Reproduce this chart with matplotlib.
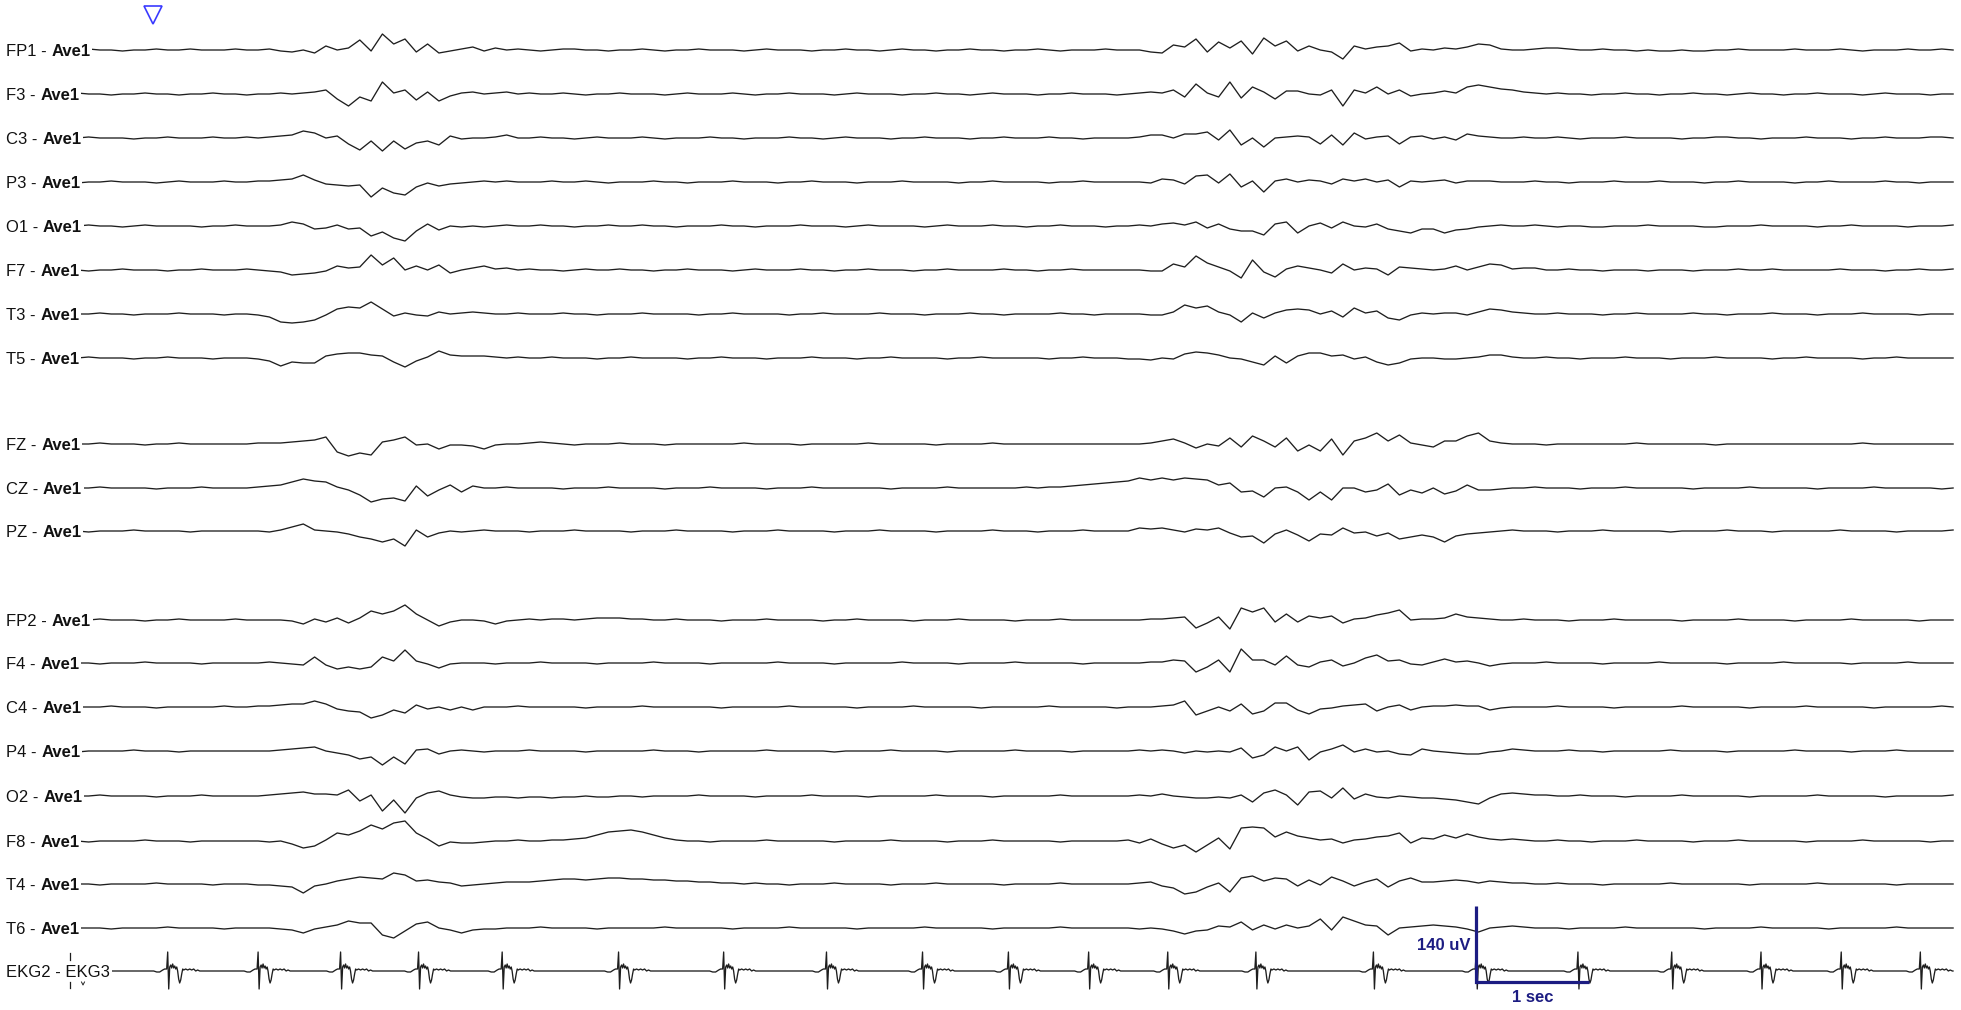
import numpy as np
import matplotlib.pyplot as plt

# ===================================================
# EEG page: 19 channels vs. average reference + EKG
# values are traced at 10 samples/s, in display units
# (1 unit = 140/76 uV, i.e. one screen pixel of the page)
# ===================================================
FS = 10.0
UV_PER_UNIT = 140.0 / 76.0

fp1 = [1, 0, 1, 0, 0, -1, 0, 0, 1, 0, 0, 1, 0, 0,
       0, 1, 0, 0, 1, -1, -2, 0, -3, 4, 0, 2, 10, -1,
       16, 6, 11, -2, 6, -3, -1, 1, 3, -1, 2, 0, 1, 0,
       -1, 0, 1, 1, 0, 0, -1, 0, 0, 1, 0, -1, 0, 0,
       1, 0, 0, 0, -1, 0, 1, 0, 0, 0, -1, 0, 0, 1,
       0, 0, -1, 0, 1, 0, 0, -1, 0, 0, 1, 0, 0, -1,
       0, 0, 1, 0, -1, 0, 0, 0, 1, 0, 0, 0, -2, -3,
       5, 3, 11, -2, 8, 2, 9, -4, 12, 4, 9, -1, 4, 0,
       -2, -9, 4, 1, 3, 4, 7, -1, 1, 0, 2, 1, 3, 6,
       5, 1, 0, 0, 1, 2, 2, 1, 0, 0, 1, 0, 0, -1,
       0, -1, -1, 0, -1, -1, 0, 0, 1, 0, 0, 0, 0, 1,
       0, 0, 0, 1, 0, -1, 0, 0, 0, 1, 0, 0, 1, 0]

f3 = [0, 1, 0, 0, -1, 0, 0, 1, 0, 0, -1, 0, 0, 1,
      0, 0, -1, 0, 0, 1, 0, 1, 2, 4, -5, -12, -3, -7,
      12, 1, 4, -6, 2, -7, -2, 1, 2, 0, 1, 2, 0, 1,
      0, 0, 1, 0, -1, 0, 0, 1, 0, 0, 0, -1, 0, 1,
      0, 0, 0, 1, 0, -1, 0, 0, 1, 0, 0, 0, -1, 0,
      1, 0, 0, 0, -1, 0, 0, 1, 0, 0, -1, 0, 1, 0,
      0, 0, -1, 0, 0, 1, 0, 0, 0, -1, 0, 1, 2, 1,
      4, -3, 10, 1, -3, 12, -4, 7, 2, -5, 3, 3, 0, -1,
      4, -12, 4, 1, 7, 0, 4, -2, 0, 1, 3, 1, 7, 9,
      7, 5, 4, 2, 1, 0, 1, 0, 0, -1, 0, 0, 1, 0,
      0, -1, 0, 0, 1, 0, 0, -1, 0, 1, 0, 0, -1, 0,
      0, 1, 0, 0, 0, -1, 0, 1, 0, 0, 0, -1, 0, 0]

c3 = [0, 0, 1, 0, 0, 0, -1, 0, 0, 1, 0, 0, 0, 1,
      0, 0, 1, 0, 1, 2, 3, 7, 5, 0, 2, -6, -12, -3,
      -13, -3, -11, -5, -3, -7, 2, -1, 0, 0, 1, 3, 0, 0,
      1, 0, 0, -1, 0, 1, 0, 0, 0, 1, 0, -1, 0, 0,
      0, 1, 0, 0, -1, 0, 0, 0, 1, 0, 0, -1, 0, 1,
      0, 0, 0, -1, 0, 0, 1, 0, 0, 0, -1, 0, 0, 1,
      0, 0, 0, 1, 0, 0, -1, 0, 0, 0, 0, 1, 3, 3,
      0, 4, 4, 6, -2, 8, -7, 0, -9, 0, 1, 2, 1, -6,
      3, -7, 5, -1, 1, 2, -6, 1, 2, -1, 1, -2, 4, 2,
      1, 0, 0, 1, 0, 0, 1, 0, -1, 0, 0, 0, 1, 0,
      0, 0, 0, -1, 0, 0, 1, 1, 0, 0, -1, 0, 0, 0,
      1, 0, 0, 0, -1, 0, 0, 1, 0, 0, 0, 1, 1, 0]

p3 = [0, -1, 0, 0, 1, 0, 0, 0, -1, 0, 1, 0, 0, 0,
      1, 0, 0, 1, 1, 2, 3, 7, 2, -2, -3, -4, -3, -15,
      -6, -11, -13, -5, -1, -4, -2, -1, 0, 1, 0, 1, 0, 0,
      0, 1, 0, 0, 1, 0, -1, 0, 0, 0, 1, 0, 0, -1,
      0, 0, 0, 1, 0, 0, 0, -1, 0, 0, 1, 0, 0, 0,
      -1, 0, 0, 0, 1, 0, 0, 0, 0, -1, 0, 0, 1, 0,
      0, 0, 0, -1, 0, 0, 1, 0, 0, 0, 0, 0, -1, 3,
      2, -2, 6, 7, -1, 8, -5, 1, -10, 1, 3, 0, 2, 1,
      -2, 3, 1, 3, 0, 2, -5, 1, 0, 1, 2, -1, 1, 1,
      1, 0, 0, 0, 1, 0, 0, -1, 0, 0, 0, 1, 0, 0,
      0, 1, 0, 0, 0, -1, 0, 0, 1, 0, 0, 0, 0, -1,
      0, 0, 1, 0, 0, 0, 0, 1, 0, 0, -1, 0, 0, 0]

o1 = [0, 0, 1, 0, 0, -1, 0, 1, 0, 0, 0, 0, -1, 0,
      0, 1, 0, 0, 0, 1, 4, 2, -3, -2, 1, -3, -2, -10,
      -6, -12, -15, -5, 2, -4, 0, -1, 0, -1, 0, 1, 0, 0,
      1, 0, 0, -1, 0, 0, 1, 0, 0, 1, 0, 0, -1, 0,
      0, 0, 1, 0, 0, -1, 0, 0, 0, 1, 0, 0, 0, -1,
      0, 1, 0, 0, 0, 0, -1, 0, 1, 0, 0, 0, 1, 0,
      0, -1, 0, 0, 1, 0, 0, 0, -1, 0, 0, 1, 0, 2,
      3, 1, 4, -2, 2, -3, -5, -5, -9, 2, 4, -7, 0, 3,
      -2, 4, 0, -1, 2, -3, -5, -7, -3, -3, -7, -4, -3, -1,
      0, 1, 0, 0, 1, 0, -1, 0, 0, -1, -1, 0, 0, 0,
      1, 0, 0, 0, 0, -1, -1, 0, 0, 0, 1, 0, 0, 0,
      0, -1, 0, 0, 1, 0, 0, 0, 0, -1, 0, 0, 0, 1]

f7 = [0, 0, -1, 0, 0, 1, 0, 0, 0, -1, 0, 0, 1, 0,
      0, 0, 1, 0, -1, -2, -5, -4, -3, -1, 4, 2, 3, 15,
      5, 12, 0, 4, 0, 5, -3, 0, 2, 4, 1, 2, 0, 1,
      0, 0, -1, 0, 1, 0, 0, 1, 0, 0, -1, 0, 0, 1,
      0, 0, 0, -1, 0, 1, 0, 0, 0, 1, 0, 0, -1, 0,
      0, 1, 0, 0, 0, -1, 0, 0, 1, 0, 0, 0, 0, 1,
      0, 0, -1, 0, 0, 1, 0, 0, 0, 0, 0, 0, -1, -1,
      6, 3, 14, 7, 3, -1, -8, 10, -2, -7, 1, 4, 2, 0,
      -3, 6, 0, 2, 1, -5, 3, 2, 1, 0, 1, 4, 0, 3,
      6, 5, 1, 2, 2, 0, 0, 1, 0, 0, -1, 0, 0, 0,
      -1, 0, 0, 0, -1, 0, 0, 0, 1, 0, 0, 1, 0, 0,
      0, 0, 0, 1, 0, 0, 0, -1, 0, 0, 1, 0, 0, 1]

t3 = [0, 0, 0, 1, 0, 0, -1, 0, 0, 0, 1, 0, 0, 0,
      -1, 0, 0, -1, -3, -8, -9, -8, -6, -1, 5, 7, 6, 12,
      5, -2, 1, -1, -2, 2, 0, 1, 2, 1, 0, 0, 1, 0,
      0, 0, 1, 0, 0, -1, 0, 0, 0, 1, 0, 0, 0, 0,
      -1, 0, 0, 1, 0, 0, 0, 0, -1, 0, 0, 1, 0, 0,
      0, 0, 1, 0, 0, 0, -1, 0, 0, 0, 1, 0, 0, -1,
      0, 0, 0, 0, 1, 0, 0, -1, 0, 0, 0, 0, -1, -1,
      2, 9, 6, 8, 2, -1, -8, 1, -4, 1, 4, 5, 4, 0,
      3, -3, 6, 1, 3, -4, -6, -1, 1, 0, 1, 1, -1, 2,
      5, 4, 2, 1, 0, 0, 1, 0, 0, 0, -1, 0, 0, 1,
      0, 0, 0, 0, 1, 0, 0, -1, 0, 0, 0, 1, 0, 0,
      0, -1, 0, 0, 0, 1, 0, 0, 0, 0, -1, 0, 0, 0]

t5 = [0, 0, 1, 0, 0, 0, -1, 0, 0, 1, 0, 0, 0, -1,
      0, 0, 0, -1, -3, -8, -4, -5, -5, 2, 4, 5, 5, 3,
      2, -4, -9, -3, 1, 7, 3, 2, 2, 2, 1, 0, 1, 0,
      0, 1, 0, 0, 0, -1, 0, 0, 1, 0, 0, 0, 0, -1,
      0, 0, 1, 0, 0, 0, -1, 0, 0, 0, 1, 0, 0, 0,
      -1, 0, 0, 1, 0, 0, 0, 0, -1, 0, 0, 1, 0, 0,
      0, 0, 0, -1, 0, 0, 1, 0, 0, 0, -1, -1, -2, 0,
      -1, 4, 6, 5, 3, 0, -1, -4, -7, 2, -5, 2, 5, 5,
      2, 3, -1, 1, -4, -7, -5, -1, 0, 0, -1, -1, 0, 1,
      3, 3, 1, 0, 0, 1, 0, 0, -1, 0, 0, 0, 1, 0,
      0, 0, -1, 0, 0, 0, 1, 0, 0, 0, 0, -1, 0, 0,
      1, 0, 0, 0, 0, -1, 0, 0, 1, 0, 0, 0, 0, 0]

fz = [0, 0, 0, 1, 0, 0, 0, -1, 0, 0, 1, 0, 0, 0,
      0, 0, 0, 1, 1, 1, 2, 3, 4, 7, -8, -12, -9, -11,
      2, 4, 7, -1, 0, -5, -1, -1, -2, -5, -1, 0, 0, 1,
      2, 1, 0, -1, 0, 0, 0, 1, 0, 0, 0, -1, 0, 0,
      0, 0, 0, 0, 1, 0, 0, 0, 0, -1, 0, 0, 0, 0,
      0, 1, 0, 0, 0, 0, 0, -1, 0, 0, 0, 0, 1, 0,
      0, 0, 0, 0, 0, 0, 0, 0, 0, 0, 0, 0, 1, 3,
      5, 1, -4, 0, -2, 6, -3, 8, 3, -3, 6, -7, -1, -7,
      5, -11, 3, 6, 11, 3, 9, 1, -1, -3, 3, 3, 8, 11,
      3, 1, 0, 0, 0, -1, 0, 0, 0, 0, 0, 0, 0, 1,
      0, 0, 0, 0, 0, 0, -1, 0, 0, 0, 0, 0, 0, 0,
      0, 0, 0, 0, 0, 1, 0, 0, 0, 0, 0, 0, 0, 0]

cz = [0, 0, 0, 1, 0, 0, 0, 0, -1, 0, 0, 0, 1, 0,
      0, 0, 0, 1, 2, 3, 6, 9, 7, 6, 1, -2, -7, -14,
      -11, -10, -13, 2, -8, -2, 3, -4, 2, 0, 0, 1, 0, 0,
      0, 0, -1, 0, 0, 0, 1, 0, 0, 0, 0, -1, 0, 0,
      0, 1, 0, 0, 0, 0, -1, 0, 0, 0, 1, 0, 0, 0,
      0, 0, 0, -1, 0, 0, 0, 0, 1, 0, 0, 0, 0, 0,
      0, 1, 0, 1, 1, 2, 3, 4, 5, 6, 7, 10, 8, 10,
      8, 10, 9, 8, 3, 5, -4, -3, -9, 0, 1, -4, -12, -4,
      -12, 0, 0, -4, -2, 4, -7, -2, -5, 0, -6, -3, 3, -2,
      -2, -1, 0, 0, 1, 0, 0, 0, -1, 0, 0, 0, 1, 0,
      0, 0, 0, 0, -1, 0, 0, 0, 0, 1, 0, 0, 0, 0,
      0, -1, 0, 0, 0, 0, 1, 0, 0, 0, 0, 0, -1, 0]

pz = [0, 0, -1, 0, 0, 0, 1, 0, 0, 0, 0, -1, 0, 0,
      0, 0, 0, 0, -1, 1, 4, 7, 1, 0, -1, -3, -6, -8,
      -11, -8, -15, 1, -6, -2, 0, -1, 0, 1, 0, 0, 0, -1,
      0, 0, 0, 1, 0, 0, 0, 0, -1, 0, 0, 0, 1, 0,
      0, 0, 0, -1, 0, 0, 0, 1, 0, 0, 0, 0, -1, 0,
      0, 0, 1, 0, 0, 0, 0, -1, 0, 0, 0, 0, 1, 0,
      0, 0, -1, 0, 0, 0, 1, 0, 0, 0, 0, 3, 2, 3,
      1, -1, 2, 1, 3, -2, -6, -5, -12, -3, 1, -4, -10, -3,
      -4, 3, -2, -1, -5, -2, -8, -6, -4, -6, -11, -5, -3, -2,
      -1, 0, 1, 0, 0, 0, -1, 0, 0, 0, 1, 0, 0, 0,
      0, 0, -1, 0, 0, 0, 0, 1, 0, 0, 0, -1, 0, 0,
      0, 0, 0, 1, 0, 0, 0, 0, -1, 0, 0, 0, 0, 1]

fp2 = [0, 0, 0, 1, 0, 0, 0, -1, 0, 0, 1, 0, 0, 0,
       0, 1, 0, 0, 0, 0, -1, -4, 1, -2, 2, -3, 2, 9,
       6, 9, 15, 6, 0, -6, -2, 0, 0, -1, -4, -1, 0, 1,
       0, 1, 1, 0, 1, 2, 2, 2, 1, 1, 0, 0, 1, 0,
       0, 0, -1, 0, 0, 0, 1, 0, 0, 0, 0, -1, 0, 0,
       1, 0, 0, 0, 0, -1, 0, 0, 0, 1, 0, 0, 0, 0,
       -1, 0, 0, 0, 1, 0, 0, 0, 0, 0, 0, 0, 1, 1,
       2, 3, -8, -3, 3, -9, 12, 8, 12, -2, 6, -2, 4, 2,
       4, -3, 1, 2, 5, 7, 10, 0, 1, 1, 2, 6, 3, 2,
       1, 0, 0, 1, 0, 0, 0, -1, 0, 0, 0, 1, 0, 0,
       0, 0, 0, -1, 0, 0, 0, 0, 1, 0, 0, 0, 0, -1,
       0, 0, 0, 0, 1, 0, 0, 0, 0, 0, -1, 0, 0, 0]

f4 = [0, 0, 0, -1, 0, 0, 0, 1, 0, 0, 0, 0, -1, 0,
      0, 0, 0, 0, 1, 0, -1, -2, 6, -2, -6, -4, -6, -4,
      6, 2, 13, 2, -1, -5, -1, 0, 0, 0, -1, 0, 0, 0,
      1, 0, 0, 0, 0, -1, 0, 0, 0, 0, 1, 0, 0, 0,
      0, -1, 0, 0, 0, 0, 0, 1, 0, 0, 0, 0, -1, 0,
      0, 0, 0, 0, 1, 0, 0, 0, 0, -1, 0, 0, 0, 0,
      1, 0, 0, 0, 0, 0, -1, 0, 0, 0, 0, 0, 1, 1,
      3, 2, -9, -4, 3, -9, 14, 3, 3, -2, 7, -2, -4, 1,
      3, -3, 0, 5, 8, 2, 3, -1, -2, 1, 4, 1, 2, 0,
      -3, -1, 0, 0, 0, 1, 0, 0, 0, 0, -1, 0, 0, 0,
      0, 1, 0, 0, 0, 0, 0, -1, 0, 0, 0, 0, 1, 0,
      0, 0, 0, 0, -1, 0, 0, 0, 0, 1, 0, 0, 0, 0]

c4 = [0, 0, 0, 0, 1, 0, 0, 0, -1, 0, 0, 0, 0, 0,
      1, 0, 0, 1, 1, 2, 3, 3, 6, 3, -2, -4, -5, -11,
      -8, -3, -6, 2, -2, 0, -3, 0, -3, 0, 0, 0, 1, 0,
      0, 0, 0, 0, -1, 0, 0, 0, 0, 1, 0, 0, 0, 0,
      0, 0, -1, 0, 0, 0, 0, 0, 1, 0, 0, 0, 0, 0,
      -1, 0, 0, 0, 0, 1, 0, 0, 0, 0, 0, -1, 0, 0,
      0, 0, 0, 1, 0, 0, 0, 0, 0, -1, 0, 0, 0, 1,
      2, 6, -8, -4, 0, -4, 3, -7, -4, 4, 4, -3, -7, -2,
      -1, 1, 2, 3, -4, 0, 2, -3, 0, 1, 1, 2, 1, 1,
      -3, -1, 0, 0, 0, 0, 1, 0, 0, 0, 0, -1, 0, 0,
      0, 0, 0, 1, 0, 0, 0, 0, 0, -1, 0, 0, 0, 0,
      1, 0, 0, 0, 0, 0, -1, 0, 0, 0, 0, 0, 1, 0]

p4 = [0, -1, 0, 0, 0, 0, 1, 0, 0, 0, -1, 0, 0, 0,
      0, 0, 0, 0, 0, 1, 2, 3, 4, 0, -2, -4, -8, -6,
      -14, -6, -13, 1, 2, -3, 0, 1, 0, -1, 0, 0, 0, 1,
      0, 0, 0, 0, -1, 0, 0, 0, 0, 0, 1, 0, 0, 0,
      -1, 0, 0, 0, 0, 0, 1, 0, 0, 0, 0, 0, -1, 0,
      0, 0, 0, 1, 0, 0, 0, 0, -1, 0, 0, 0, 0, 0,
      1, 0, 0, 0, 0, -1, 0, 0, 0, 0, 0, 1, 0, 1,
      0, -2, 0, -1, 0, -1, 3, -7, -4, 4, 0, 4, -9, -1,
      2, 6, -1, 2, -1, 0, -3, -4, 2, 0, -1, -2, -3, -3,
      -1, 0, 2, 1, 0, 0, 0, 1, 0, 0, -1, 0, 0, 0,
      0, 0, 1, 0, 0, 0, 0, -1, 0, 0, 0, 0, 0, 1,
      0, 0, 0, 0, -1, 0, 0, 0, 1, 0, 0, 0, 0, 0]

o2 = [0, 0, 0, 1, 0, 0, 0, 0, -1, 0, 0, 0, 1, 0,
      0, 0, 0, 0, 1, 2, 3, 4, 2, 2, 1, 6, -5, 1,
      -15, -4, -17, -2, 3, 5, 1, -1, -2, -2, -1, -1, -2, -1,
      -1, -2, -1, -1, 0, -1, -1, 0, 0, -1, 0, 0, 0, 0,
      1, 0, 0, 0, 0, -1, 0, 0, 0, 0, 1, 0, 0, 0,
      0, -1, 0, 0, 0, 0, 0, 1, 0, 0, 0, 0, -1, 0,
      0, 0, 0, 0, 1, 0, 0, 0, 0, 0, 0, 1, 0, 2,
      0, -1, -2, -2, -1, -2, 1, -6, 3, 6, 1, -9, 4, 5,
      -2, 8, -3, 2, -1, -2, 0, -1, -2, -2, -3, -4, -6, -8,
      -2, 2, 3, 2, 1, 1, 0, 0, 1, 0, 0, 0, -1, 0,
      0, 0, 0, 1, 0, 0, 0, 0, 0, -1, 0, 0, 0, 0,
      0, 1, 0, 0, 0, 0, 0, -1, 0, 0, 0, 0, 0, 1]

f8 = [0, 0, -1, 0, 0, 0, 0, 1, 0, 0, 0, -1, 0, 0,
      0, 0, 0, 0, -1, 0, -3, -7, -5, 1, 8, 6, 10, 16,
      12, 18, 20, 8, 2, -5, -1, -2, -2, -1, 0, 0, 1, 0,
      0, 1, 1, 2, 3, 6, 9, 10, 11, 9, 6, 3, 1, 0,
      0, -1, 0, 0, 0, 0, 1, 0, 0, 0, 0, 0, -1, 0,
      0, 0, 0, 1, 0, 0, 0, 0, -1, 0, 0, 0, 1, 0,
      0, 0, 0, 0, -1, 0, 0, 0, 0, 0, 1, -2, 2, -3,
      -7, -4, -11, -4, 3, -8, 13, 14, 13, 4, 9, 5, 3, 1,
      2, -2, 1, 2, 4, 5, 8, -2, 3, 2, 6, 3, 7, 4,
      2, 1, 2, 1, 0, 0, 1, 0, 0, -1, 0, 0, 0, 1,
      0, 0, 0, 0, -1, 0, 0, 0, 1, 0, 0, 0, 0, 0,
      -1, 0, 0, 0, 0, 1, 0, 0, 0, 0, 0, -1, 0, 0]

t4 = [0, 0, 0, -1, 0, 0, 0, 0, 1, 0, 0, 0, 0, -1,
      0, 0, 0, -1, -1, -2, -3, -9, -2, 0, 3, 5, 7, 6,
      5, 11, 9, 3, 4, 2, 1, -2, -1, 0, 1, 2, 2, 2,
      3, 4, 5, 5, 4, 5, 6, 6, 5, 5, 4, 4, 3, 3,
      2, 2, 1, 1, 0, 1, 0, 0, -1, 0, 0, 0, 1, 0,
      0, 0, 0, -1, 0, 0, 0, 1, 0, 0, 0, 0, 0, -1,
      0, 0, 0, 0, 1, 0, 0, 0, 0, 0, 0, 1, 2, -2,
      -4, -10, -8, -3, 1, -8, 6, 8, 3, 6, 5, -2, 4, -1,
      7, 3, -2, 2, 5, -3, 3, 6, 2, 2, 3, 4, 3, 1,
      3, 2, 1, 1, 0, 0, 1, 0, 0, 0, -1, 0, 0, 0,
      0, 0, 1, 0, 0, 0, 0, 0, 0, -1, 0, 0, 0, 0,
      0, 1, 0, 0, 0, 0, 0, 0, -1, 0, 0, 0, 0, 0]

t6 = [0, 0, 0, 0, -1, 0, 0, 0, 0, 1, 0, 0, 0, 0,
      -1, 0, 0, 0, 0, -1, -2, -5, -1, 1, 3, 7, 5, 5,
      -7, -10, -3, 4, 6, 0, -2, -5, -2, -1, -1, 0, 0, 0,
      1, 0, 0, 0, 0, -1, 0, 0, 0, 0, 0, 1, 0, 0,
      0, 0, 0, -1, 0, 0, 0, 0, 1, 0, 0, 0, 0, 0,
      -1, 0, 0, 0, 0, 0, 1, 0, 0, 0, 0, 0, -1, 0,
      0, 0, 0, 0, 1, 0, 0, 0, 0, 0, 0, -1, 0, -1,
      -3, -6, -3, -2, 2, 1, 6, -2, 3, -1, 3, 0, 2, 9,
      -2, 11, 7, 3, 2, -7, 0, 1, 2, 3, 2, 1, -1, -4,
      0, 1, 2, 1, 0, 0, 0, -1, 0, 0, 0, 0, 1, 0,
      0, 0, 0, 0, 0, -1, 0, 0, 0, 0, 1, 0, 0, 0,
      0, 0, -1, 0, 0, 0, 0, 0, 1, 0, 0, 0, 0, 0]

channel_names = ["FP1", "F3", "C3", "P3", "O1", "F7", "T3", "T5",
                 "FZ", "CZ", "PZ",
                 "FP2", "F4", "C4", "P4", "O2", "F8", "T4", "T6"]
channel_data = [fp1, f3, c3, p3, o1, f7, t3, t5,
                fz, cz, pz,
                fp2, f4, c4, p4, o2, f8, t4, t6]
reference_name = "Ave1"

# EKG: beat times (s) and one traced beat (offset ms, units)
ekg_beats_s = [0.90, 1.70, 2.43, 3.12, 3.86, 4.89, 5.82, 6.73, 7.58, 8.34,
               9.05, 9.75, 10.53, 11.57, 12.48, 13.38, 14.21, 15.00, 15.71, 16.41]
qrs_ms = [-124, -97, -71, -44, -27, -9, 0, 9, 18, 27, 35, 44, 53, 62, 71, 80,
          88, 97, 106, 115, 124, 133, 142, 159, 177, 195, 212, 230, 248, 265, 283]
qrs_units = [0, -1, -1, 1, 2, 2, 19, -18, 4, 6, 3, 7, 3, 5, 2, 4,
             0, -8, -12, -9, -3, 2, 1, 2, 1, 2, 1, 2, 0, 1, 0]

scale_uv = 140
scale_sec = 1

# ===================================================
# page layout (screen pixels of the 1961x1010 page)
# ===================================================
W, H = 1961, 1010
X0 = 66.0            # pixel column of t = 0
PX_PER_SEC = 113.0
row_y = [50, 94, 138, 182, 226, 270, 314, 358,
         444, 488, 531,
         620, 663, 707, 751, 796, 841, 884, 928]
ekg_y = 971
ink = "#1e1e1e"
navy = "#1c1c82"
font = ["Liberation Sans", "DejaVu Sans"]


def px_x(x):
    return (x - X0) / PX_PER_SEC


fig = plt.figure(figsize=(W / 100, H / 100), dpi=100)
ax = fig.add_axes([0, 0, 1, 1])
ax.set_xlim(px_x(0), px_x(W))
ax.set_ylim(H, 0)
ax.axis("off")

box = dict(boxstyle="square,pad=0.12", fc="white", ec="none")

for name, vals, y0 in zip(channel_names, channel_data, row_y):
    v = np.asarray(vals, dtype=float)
    t = np.arange(len(v)) / FS
    ax.plot(t, y0 - v, color=ink, lw=0.95, zorder=1)
    lab = ax.text(px_x(6), y0 + 6, f"{name} -", fontsize=12, family=font,
                  ha="left", va="baseline", color="#111111", bbox=box, zorder=3)
    ax.annotate(reference_name, xy=(1, 0), xycoords=lab,
                xytext=(3.4, 0), textcoords="offset points",
                fontsize=12, family=font, fontweight="bold", color="#111111",
                ha="left", va="bottom", bbox=box, zorder=3)

# EKG channel (starts under its label, like the EEG rows)
ekg_t = [0.0]
ekg_v = [0.0]
for bt in ekg_beats_s:
    for off, val in zip(qrs_ms, qrs_units):
        ekg_t.append(bt + off / 1000.0)
        ekg_v.append(val)
ekg_t.append(px_x(1953))
ekg_v.append(0.0)
ax.plot(ekg_t, ekg_y - np.asarray(ekg_v), color=ink, lw=0.95, zorder=1)
ax.text(px_x(6), ekg_y + 6, "EKG2 - EKG3", fontsize=12, family=font,
        ha="left", va="baseline", color="#111111", bbox=box, zorder=3)
# event ticks through the EKG label
ax.plot([px_x(70), px_x(70)], [953, 960], color=ink, lw=0.9, zorder=4)
ax.plot([px_x(70), px_x(70)], [982, 988], color=ink, lw=0.9, zorder=4)
ax.plot([px_x(81.5), px_x(83), px_x(84.5)], [982, 985, 982], color=ink, lw=0.7, zorder=4)

# event marker at the top
ax.plot(px_x(153), 15, marker="v", ms=13, mfc="white", mec="#3a3aff",
        mew=1.2, zorder=5)

# calibration bar
bar_t0 = 12.48
bar_bottom = 982
bar_top = bar_bottom - scale_uv / UV_PER_UNIT
ax.plot([bar_t0, bar_t0, bar_t0 + scale_sec], [bar_top, bar_bottom, bar_bottom],
        color=navy, lw=2.3, solid_joinstyle="miter", solid_capstyle="butt", zorder=6)
ax.text(bar_t0 - 6 / PX_PER_SEC, (bar_top + bar_bottom) / 2 + 1, f"{scale_uv} uV",
        fontsize=12, family=font, fontweight="bold", color=navy,
        ha="right", va="center", zorder=6)
ax.text(bar_t0 + scale_sec / 2, 997, f"{scale_sec} sec",
        fontsize=12, family=font, fontweight="bold", color=navy,
        ha="center", va="center", zorder=6)

fig.savefig("out.png", dpi=100, facecolor="white")
